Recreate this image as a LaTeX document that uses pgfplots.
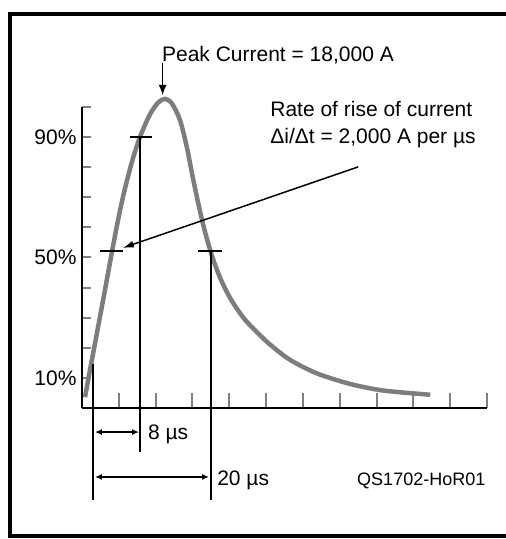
\documentclass[border=0pt]{standalone}
\usepackage{pgfplots}
\pgfplotsset{compat=1.18}
\usepackage{fontspec}
\setmainfont{Liberation Sans}
\usetikzlibrary{arrows.meta}

\newcommand{\lbl}{\fontsize{21}{25}\selectfont}
\newcommand{\code}{\fontsize{18}{22}\selectfont}
\definecolor{curve}{RGB}{125,125,125}

\begin{document}
\begin{tikzpicture}[x=1pt,y=1pt]
  \path[use as bounding box] (0,0) rectangle (506,539);
  % frame (open on the right)
  \draw[line width=4pt] (506,525) -- (10,525) -- (10,2.5) -- (506,2.5);
  \begin{axis}[
      at={(82pt,131pt)}, anchor=south west,
      scale only axis, width=405pt, height=301pt,
      xmin=0, xmax=11, ymin=0, ymax=100,
      axis lines=left, axis line style={-, line width=2pt},
      clip=false,
      tick align=inside,
      xtick={1,...,11}, xticklabels={},
      ytick={0,10,...,100},
      yticklabels={,10\%,,,,50\%,,,,90\%,},
      xtick style={line width=2pt, /pgfplots/major tick length=15pt},
      ytick style={line width=2pt, /pgfplots/major tick length=9pt},
      yticklabel style={font=\lbl, xshift=-2pt},
    ]
    % current waveform
    \addplot[curve, line width=4.5pt, smooth, tension=0.5] coordinates {
      (0.082,3.6) (0.217,12.6) (0.40,24.5) (0.58,36.3) (0.715,45.3)
      (0.81,51.6) (0.943,60.2) (1.12,70.5) (1.35,81.5) (1.576,90.1)
      (1.848,97.6) (2.07,101.5) (2.255,102.7) (2.44,101.2) (2.66,95.7)
      (2.845,86.8) (3.024,75.7) (3.207,65.3) (3.342,58.5) (3.478,52.6)
      (3.614,47.6) (3.796,42.0) (4.068,35.6) (4.43,29.3) (4.883,23.6)
      (5.155,20.6) (5.65,16.0) (6.38,11.5) (7.28,8.0) (8.19,5.8)
      (9.46,4.4)
    };
    % level markers and time lines
    \draw[line width=2pt] (axis cs:1.30,90) -- (axis cs:1.90,90);
    \draw[line width=2pt] (axis cs:1.58,90) -- (axis cs:1.58,-14.6);
    \draw[line width=2pt] (axis cs:0.49,52.2) -- (axis cs:1.11,52.2);
    \draw[line width=2pt] (axis cs:3.15,52.2) -- (axis cs:3.80,52.2);
    \draw[line width=2pt] (axis cs:3.505,52.2) -- (axis cs:3.505,-30.6);
    \draw[line width=2pt] (axis cs:0.30,14.6) -- (axis cs:0.30,-30.6);
    % spans
    \draw[{Latex[length=7pt,width=6pt]}-{Latex[length=7pt,width=6pt]}, line width=1.5pt]
      (axis cs:0.35,-8.0) -- (axis cs:1.55,-8.0);
    \draw[{Latex[length=7pt,width=6pt]}-{Latex[length=7pt,width=6pt]}, line width=1.5pt]
      (axis cs:0.35,-22.9) -- (axis cs:3.45,-22.9);
    \node[anchor=base west, inner sep=0, font=\lbl] at (axis cs:1.79,-10.3) {8 µs};
    \node[anchor=base west, inner sep=0, font=\lbl] at (axis cs:3.67,-25.6) {20 µs};
    \node[anchor=base west, inner sep=0, font=\code] at (axis cs:7.47,-25.6) {QS1702-HoR01};
    % peak annotation
    \draw[-{Latex[length=10pt,width=8pt]}, line width=1.5pt]
      (axis cs:2.19,114.5) -- (axis cs:2.19,104.0);
    \node[anchor=base west, inner sep=0, font=\lbl] at (axis cs:2.17,115.0) {Peak Current = 18,000 A};
    % rate of rise annotation
    \node[anchor=base west, inner sep=0, font=\lbl] at (axis cs:5.11,96.7) {Rate of rise of current};
    \node[anchor=base west, inner sep=0, font=\lbl] at (axis cs:5.11,88.0) {Δi/Δt = 2,000 A per µs};
    \draw[-{Latex[length=11pt,width=7pt]}, line width=1.5pt]
      (axis cs:7.50,80.1) -- (axis cs:1.11,53.2);
  \end{axis}
\end{tikzpicture}
\end{document}
